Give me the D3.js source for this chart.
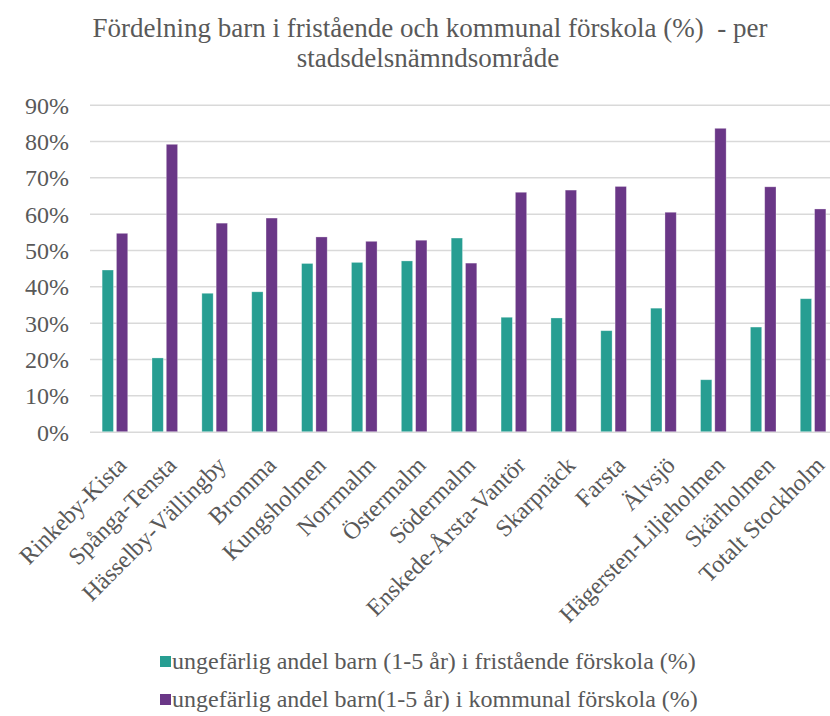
<!DOCTYPE html>
<html>
<head>
<meta charset="utf-8">
<title>Fördelning barn i fristående och kommunal förskola</title>
<script src="https://cdn.jsdelivr.net/npm/d3@7"></script>
<style>
  body { margin: 0; background: #fff; }
  svg text { font-family: "Liberation Serif", "Times New Roman", serif; fill: #595959; }
</style>
</head>
<body>
<svg id="chart" width="830" height="716"></svg>
<script>
var districts = ["Rinkeby-Kista", "Spånga-Tensta", "Hässelby-Vällingby", "Bromma", "Kungsholmen",
  "Norrmalm", "Östermalm", "Södermalm", "Enskede-Årsta-Vantör", "Skarpnäck", "Farsta",
  "Älvsjö", "Hägersten-Liljeholmen", "Skärholmen", "Totalt Stockholm"]
var fristaende = [44.5, 20.3, 38.1, 38.5, 46.3, 46.6, 47.0, 53.3, 31.5, 31.3, 27.8, 34.0, 14.3, 28.8, 36.6]
var kommunal = [54.6, 79.1, 57.4, 58.8, 53.6, 52.4, 52.7, 46.4, 65.9, 66.5, 67.5, 60.4, 83.5, 67.4, 61.3]
var seriesNames = ["ungefärlig andel barn (1-5 år) i fristående förskola (%)",
  "ungefärlig andel barn(1-5 år) i kommunal förskola (%)"]
var colors = ["#279e92", "#6a3787"]
var yTicks = [0, 10, 20, 30, 40, 50, 60, 70, 80, 90]

var svg = d3.select('#chart')
var plotL = 90, plotR = 838, plotT = 104.7, plotB = 431.7

var x = d3.scaleBand().domain(districts).range([plotL, plotR])
var y = d3.scaleLinear().domain([0, 90]).range([plotB, plotT])

// title
var title = svg.append('text').attr('text-anchor', 'middle').style('font-size', '27px').style('white-space', 'pre')
title.append('tspan').attr('x', 430).attr('y', 37).text('Fördelning barn i fristående och kommunal förskola (%)  - per')
title.append('tspan').attr('x', 428).attr('y', 67).text('stadsdelsnämndsområde')

// grid + y labels
var yAxis = svg.append('g').attr('transform', 'translate(' + plotL + ',0)')
  .call(d3.axisLeft(y).tickValues(yTicks).tickSize(-(plotR - plotL)).tickFormat(function (d) { return d + '%' }))
yAxis.select('.domain').remove()
yAxis.selectAll('line').attr('stroke', '#d9d9d9').attr('stroke-width', 1.5)
yAxis.selectAll('text').attr('x', -21).attr('dy', '0.35em').style('font-size', '24px').attr('fill', '#595959')

// bars
var bw = 11.3, gap = 3
var groups = svg.append('g').selectAll('g').data(districts).enter().append('g')
  .attr('transform', function (d) { return 'translate(' + (x(d) + x.bandwidth() / 2) + ',0)' })
groups.each(function (d, i) {
  var g = d3.select(this)
  ;[fristaende[i], kommunal[i]].forEach(function (v, j) {
    g.append('rect')
      .attr('x', j === 0 ? -bw - gap / 2 : gap / 2)
      .attr('y', y(v))
      .attr('width', bw)
      .attr('height', y(0) - y(v))
      .attr('fill', colors[j])
      .attr('stroke', '#ffffff').attr('stroke-opacity', 0.4).attr('stroke-width', 0.75)
  })
})

// x labels
var xAxis = svg.append('g').attr('transform', 'translate(0,' + plotB + ')')
  .call(d3.axisBottom(x).tickSize(0))
xAxis.select('.domain').remove()
xAxis.selectAll('text')
  .style('font-size', '24px').attr('fill', '#595959')
  .attr('text-anchor', 'end')
  .attr('y', 0).attr('dy', '0.35em')
  .attr('transform', 'translate(7,29) rotate(-45)')

// legend
var legend = svg.append('g').selectAll('g').data(seriesNames).enter().append('g')
  .attr('transform', function (d, i) { return 'translate(160,' + (656 + i * 38) + ')' })
legend.append('rect').attr('width', 11).attr('height', 11).attr('fill', function (d, i) { return colors[i] })
legend.append('text').attr('x', 12).attr('y', 13).style('font-size', '24px').text(function (d) { return d })
</script>
</body>
</html>
